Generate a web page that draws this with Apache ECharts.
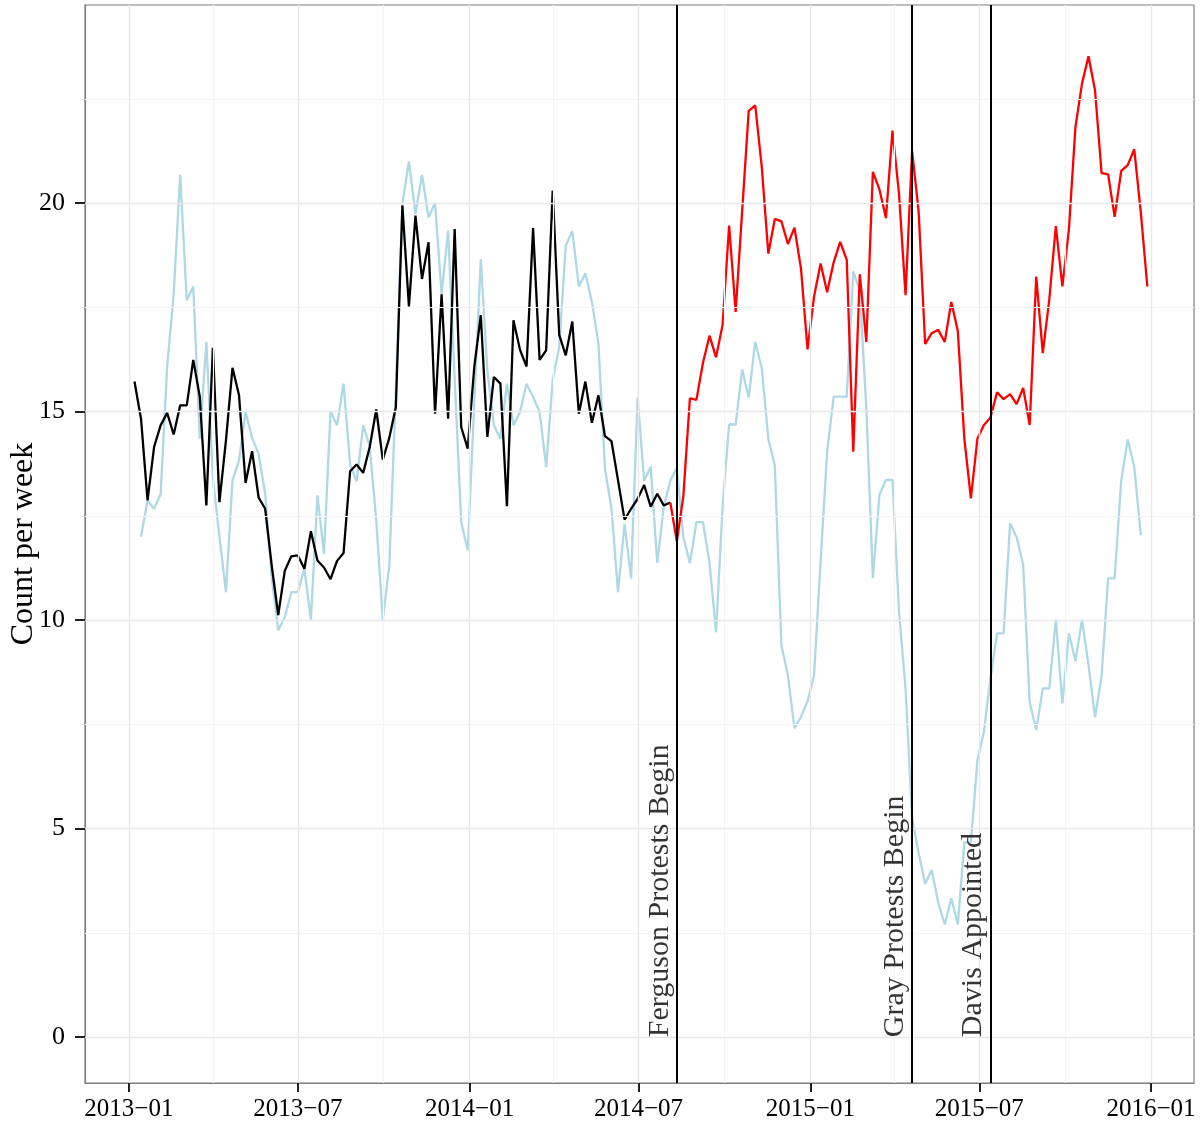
<!DOCTYPE html>
<html>
<head>
<meta charset="utf-8">
<title>Count per week</title>
<script src="https://cdn.jsdelivr.net/npm/echarts@6/dist/echarts.min.js"></script>
<style>
  html, body { margin: 0; padding: 0; background: #ffffff; }
  #chart { width: 1201px; height: 1128px; }
</style>
</head>
<body>
<div id="chart"></div>
<script>
// Week starting dates (Mondays)
const weeks = [
  '2013-01-07','2013-01-14','2013-01-21','2013-01-28','2013-02-04','2013-02-11','2013-02-18','2013-02-25',
  '2013-03-04','2013-03-11','2013-03-18','2013-03-25','2013-04-01','2013-04-08','2013-04-15','2013-04-22',
  '2013-04-29','2013-05-06','2013-05-13','2013-05-20','2013-05-27','2013-06-03','2013-06-10','2013-06-17',
  '2013-06-24','2013-07-01','2013-07-08','2013-07-15','2013-07-22','2013-07-29','2013-08-05','2013-08-12',
  '2013-08-19','2013-08-26','2013-09-02','2013-09-09','2013-09-16','2013-09-23','2013-09-30','2013-10-07',
  '2013-10-14','2013-10-21','2013-10-28','2013-11-04','2013-11-11','2013-11-18','2013-11-25','2013-12-02',
  '2013-12-09','2013-12-16','2013-12-23','2013-12-30',
  '2014-01-06','2014-01-13','2014-01-20','2014-01-27','2014-02-03','2014-02-10','2014-02-17','2014-02-24',
  '2014-03-03','2014-03-10','2014-03-17','2014-03-24','2014-03-31','2014-04-07','2014-04-14','2014-04-21',
  '2014-04-28','2014-05-05','2014-05-12','2014-05-19','2014-05-26','2014-06-02','2014-06-09','2014-06-16',
  '2014-06-23','2014-06-30','2014-07-07','2014-07-14','2014-07-21','2014-07-28','2014-08-04','2014-08-11',
  '2014-08-18','2014-08-25','2014-09-01','2014-09-08','2014-09-15','2014-09-22','2014-09-29','2014-10-06',
  '2014-10-13','2014-10-20','2014-10-27','2014-11-03','2014-11-10','2014-11-17','2014-11-24','2014-12-01',
  '2014-12-08','2014-12-15','2014-12-22','2014-12-29',
  '2015-01-05','2015-01-12','2015-01-19','2015-01-26','2015-02-02','2015-02-09','2015-02-16','2015-02-23',
  '2015-03-02','2015-03-09','2015-03-16','2015-03-23','2015-03-30','2015-04-06','2015-04-13','2015-04-20',
  '2015-04-27','2015-05-04','2015-05-11','2015-05-18','2015-05-25','2015-06-01','2015-06-08','2015-06-15',
  '2015-06-22','2015-06-29','2015-07-06','2015-07-13','2015-07-20','2015-07-27','2015-08-03','2015-08-10',
  '2015-08-17','2015-08-24','2015-08-31','2015-09-07','2015-09-14','2015-09-21','2015-09-28','2015-10-05',
  '2015-10-12','2015-10-19','2015-10-26','2015-11-02','2015-11-09','2015-11-16','2015-11-23','2015-11-30',
  '2015-12-07','2015-12-14','2015-12-21','2015-12-28'
];

// Weekly count (black before the Ferguson week, red from then on)
const weeklyCount = [
  15.72,14.83,12.87,14.15,14.67,14.97,14.45,15.15,15.15,16.24,15.35,12.75,16.53,12.83,14.31,16.05,
  15.39,13.29,14.05,12.94,12.67,11.31,10.12,11.18,11.53,11.55,11.23,12.13,11.43,11.26,10.98,11.42,
  11.61,13.57,13.73,13.53,14.15,15.05,13.85,14.37,15.11,19.94,17.52,19.70,18.18,19.06,14.95,17.81,
  14.83,19.38,14.63,14.11,
  16.07,17.31,14.39,15.83,15.67,12.73,17.19,16.48,16.08,19.40,16.24,16.47,20.30,16.84,16.35,17.16,
  14.95,15.72,14.73,15.39,14.41,14.29,13.35,12.41,12.67,12.91,13.24,12.72,13.03,12.75,12.82,11.89,
  12.98,15.32,15.28,16.17,16.82,16.30,17.08,19.46,17.39,19.82,22.21,22.34,20.86,18.79,19.62,19.56,
  19.02,19.41,18.43,16.49,
  17.76,18.55,17.86,18.58,19.07,18.64,14.04,18.29,16.67,20.75,20.33,19.64,21.74,20.22,17.79,21.25,
  19.80,16.62,16.88,16.96,16.67,17.63,16.93,14.34,12.92,14.35,14.68,14.86,15.46,15.30,15.42,15.18,
  15.57,14.68,18.24,16.40,17.69,19.45,18.00,19.37,21.82,22.86,23.52,22.70,20.72,20.69,19.67,20.77,
  20.91,21.29,19.78,18.00
];

// Comparison series (light blue), no value in the first and last week
const comparisonCount = [
  null,12.00,12.87,12.67,13.02,16.07,17.82,20.68,17.67,18.00,14.35,16.67,13.40,12.00,10.67,13.35,
  13.83,14.99,14.37,13.99,13.03,11.03,9.76,10.07,10.67,10.67,11.23,10.01,12.99,11.59,15.00,14.67,
  15.67,13.73,13.33,14.67,14.17,12.39,10.01,11.31,15.50,19.99,21.00,19.74,20.68,19.66,20.00,17.82,
  19.34,15.80,12.35,11.67,
  15.20,18.66,15.99,14.67,14.35,15.67,14.67,14.99,15.67,15.35,14.99,13.67,15.75,16.55,18.98,19.33,
  18.00,18.32,17.63,16.64,13.63,12.67,10.67,12.31,11.00,15.34,13.34,13.68,11.37,12.72,13.34,13.65,
  11.99,11.37,12.35,12.35,11.37,9.71,12.72,14.69,14.69,16.01,15.34,16.67,16.04,14.35,13.70,9.40,
  8.67,7.41,7.68,8.05,
  8.68,11.40,14.04,15.36,15.36,15.36,18.36,17.90,15.07,11.01,13.00,13.36,13.36,10.20,8.36,5.26,
  4.41,3.68,4.01,3.22,2.70,3.33,2.70,4.67,4.67,6.64,7.33,8.60,9.68,9.68,12.32,11.99,
  11.33,8.03,7.37,8.36,8.36,10.01,8.00,9.68,9.02,10.01,8.93,7.67,8.66,11.00,11.00,13.34,
  14.33,13.67,12.04,null
];

// Event markers
const eventDates  = ['2014-08-11', '2015-04-20', '2015-07-13'];
const eventLabels = ['Ferguson Protests Begin', 'Gray Protests Begin', 'Davis Appointed'];
const colourSwitchWeek = '2014-08-04';

// Axis breaks
const xTickDates  = ['2013-01-01','2013-07-01','2014-01-01','2014-07-01','2015-01-01','2015-07-01','2016-01-01'];
const xTickLabels = ['2013\u221201','2013\u221207','2014\u221201','2014\u221207','2015\u221201','2015\u221207','2016\u221201'];
const xMinorDates = ['2013-04-01','2013-10-01','2014-04-01','2014-10-01','2015-04-01','2015-10-01'];
const yTicks      = [0, 5, 10, 15, 20];
const yMinor      = [2.5, 7.5, 12.5, 17.5, 22.5];
const xRange = ['2012-11-15', '2016-02-16'];
const yRange = [-1.1, 24.75];

// dates -> epoch ms (UTC), used as the x value on a linear axis
function ts(s) {
  const p = s.split('-').map(Number);
  return Date.UTC(p[0], p[1] - 1, p[2]);
}

const switchIdx = weeks.indexOf(colourSwitchWeek);
const beforeData = [], afterData = [], compData = [];
weeks.forEach(function (w, i) {
  if (i <= switchIdx) beforeData.push([ts(w), weeklyCount[i]]);
  if (i >= switchIdx) afterData.push([ts(w), weeklyCount[i]]);
  if (comparisonCount[i] != null) compData.push([ts(w), comparisonCount[i]]);
});

const FONT = 'Liberation Serif';
const xTickTs = xTickDates.map(ts);

function gridLine(colour, width) {
  return { color: colour, width: width, type: 'solid' };
}

const frameLine = { show: true, onZero: false, lineStyle: { color: '#7f7f7f', width: 1.2 } };
const tickStyle = { color: '#222222', width: 2 };

const chart = echarts.init(document.getElementById('chart'), null, { renderer: 'canvas' });

chart.setOption({
  animation: false,
  backgroundColor: '#ffffff',
  grid: {
    left: 85, right: 7, top: 5, bottom: 45,
    outerBoundsMode: 'none',
    containLabel: false,
    show: true, borderColor: '#7f7f7f', borderWidth: 1.2, backgroundColor: '#ffffff'
  },
  xAxis: {
    type: 'value',
    min: ts(xRange[0]),
    max: ts(xRange[1]),
    axisLine: frameLine,
    splitLine: { show: false },
    axisTick: {
      show: true, inside: false, length: 9,
      customValues: xTickTs,
      lineStyle: tickStyle
    },
    axisLabel: {
      show: true, margin: 14,
      customValues: xTickTs,
      color: '#000000', fontFamily: FONT, fontSize: 25,
      formatter: function (v) {
        const k = xTickTs.indexOf(v);
        return k >= 0 ? xTickLabels[k] : '';
      }
    }
  },
  yAxis: {
    type: 'value',
    min: yRange[0],
    max: yRange[1],
    axisLine: frameLine,
    splitLine: { show: false },
    axisTick: {
      show: true, inside: false, length: 10,
      customValues: yTicks,
      lineStyle: tickStyle
    },
    axisLabel: {
      show: true, margin: 20,
      customValues: yTicks,
      color: '#000000', fontFamily: FONT, fontSize: 26
    },
    name: 'Count per week',
    nameLocation: 'middle',
    nameGap: 45,
    nameMoveOverlap: false,
    nameTextStyle: { color: '#000000', fontFamily: FONT, fontSize: 32 }
  },
  series: [
    {
      // panel grid
      type: 'line', data: [], silent: true, z: 1,
      markLine: {
        silent: true, symbol: ['none', 'none'], animation: false,
        label: { show: false },
        data: []
          .concat(yMinor.map(function (v) { return { yAxis: v, lineStyle: gridLine('#f4f4f4', 1.2) }; }))
          .concat(xMinorDates.map(function (d) { return { xAxis: ts(d), lineStyle: gridLine('#f4f4f4', 1.2) }; }))
          .concat(yTicks.map(function (v) { return { yAxis: v, lineStyle: gridLine('#e8e8e8', 1.4) }; }))
          .concat(xTickDates.map(function (d) { return { xAxis: ts(d), lineStyle: gridLine('#e8e8e8', 1.4) }; }))
      }
    },
    {
      name: 'comparison', type: 'line', data: compData, z: 2,
      showSymbol: false, symbol: 'none',
      lineStyle: { color: '#ADD8E6', width: 2.3 }
    },
    {
      name: 'before', type: 'line', data: beforeData, z: 3,
      showSymbol: false, symbol: 'none',
      lineStyle: { color: '#000000', width: 2.3 }
    },
    {
      name: 'after', type: 'line', data: afterData, z: 3,
      showSymbol: false, symbol: 'none',
      lineStyle: { color: '#FF0000', width: 2.3 }
    },
    {
      // event lines
      type: 'line', data: [], silent: true, z: 4,
      markLine: {
        silent: true, symbol: ['none', 'none'], animation: false,
        label: { show: false },
        lineStyle: { color: '#000000', width: 2, type: 'solid' },
        data: eventDates.map(function (d) { return { xAxis: ts(d) }; })
      }
    },
    {
      // event labels, anchored at y = 0 just left of each line
      type: 'scatter', z: 5, silent: true,
      symbolSize: 0,
      data: eventDates.map(function (d, i) { return { value: [ts(d), 0], name: eventLabels[i] }; }),
      label: {
        show: true,
        position: 'inside',
        rotate: 90,
        align: 'left',
        verticalAlign: 'bottom',
        offset: [0, -2],
        color: '#000000', fontFamily: FONT, fontSize: 30,
        formatter: function (p) { return p.name; }
      }
    }
  ]
});
</script>
</body>
</html>
